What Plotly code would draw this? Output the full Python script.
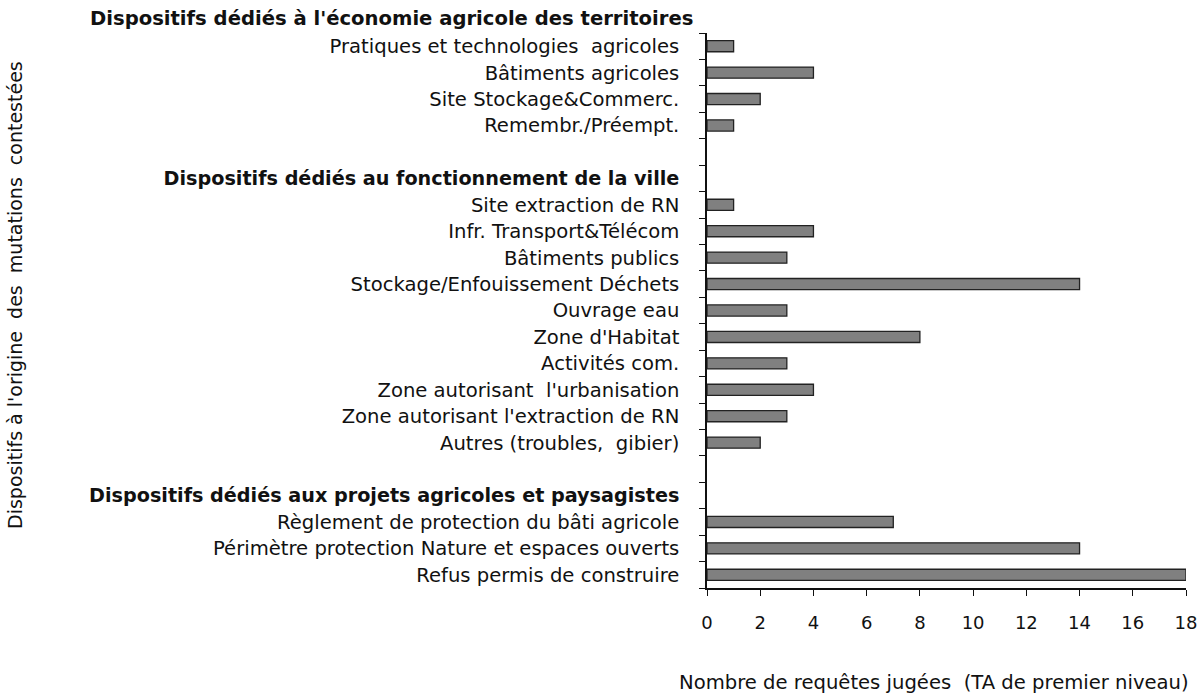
import plotly.graph_objects as go

header_top = "Dispositifs dédiés à l'économie agricole des territoires"
rows = [
    "Pratiques et technologies  agricoles",
    "Bâtiments agricoles",
    "Site Stockage&Commerc.",
    "Remembr./Préempt.",
    "",
    "Dispositifs dédiés au fonctionnement de la ville",
    "Site extraction de RN",
    "Infr. Transport&Télécom",
    "Bâtiments publics",
    "Stockage/Enfouissement Déchets",
    "Ouvrage eau",
    "Zone d'Habitat",
    "Activités com.",
    "Zone autorisant  l'urbanisation",
    "Zone autorisant l'extraction de RN",
    "Autres (troubles,  gibier)",
    "",
    "Dispositifs dédiés aux projets agricoles et paysagistes",
    "Règlement de protection du bâti agricole",
    "Périmètre protection Nature et espaces ouverts",
    "Refus permis de construire",
]
header_rows = [5, 17]
values = [1, 4, 2, 1, None, None, 1, 4, 3, 14, 3, 8, 3, 4, 3, 2, None, None, 7, 14, 18]
x_ticks = [0, 2, 4, 6, 8, 10, 12, 14, 16, 18]

positions = list(range(len(rows)))
bx = [v for v in values if v is not None]
by = [p for p, v in zip(positions, values) if v is not None]
tick_text = [
    f'<span style="font-size:19.2px"><b>{r}</b></span>' if i in header_rows else r
    for i, r in enumerate(rows)
]

font = "DejaVu Sans, Verdana, sans-serif"
fs = 19.6

fig = go.Figure(go.Bar(
    x=bx, y=by, orientation="h", width=0.42,
    marker=dict(color="#808080", line=dict(color="#222222", width=1.3)),
))

fig.update_layout(
    width=1204, height=696,
    margin=dict(l=707, r=18, t=33, b=108),
    paper_bgcolor="white", plot_bgcolor="white",
    showlegend=False,
    font=dict(family=font, size=fs, color="#111111"),
    xaxis=dict(
        range=[0, 18], tickvals=x_ticks, showgrid=False, zeroline=False,
        showline=True, linecolor="#111111", linewidth=1.5,
        ticks="outside", ticklen=6, tickcolor="#111111",
        ticklabelstandoff=12, tickfont=dict(size=18),
        ticklabeloverflow="allow", automargin=False,
    ),
    yaxis=dict(
        range=[20.5, -0.5], tickvals=positions, ticktext=tick_text,
        showgrid=False, zeroline=False, automargin=False,
        showline=True, linecolor="#111111", linewidth=1.5,
        ticks="", ticklabelstandoff=22, tickfont=dict(size=fs),
        minor=dict(tickvals=[p - 0.5 for p in positions] + [20.5], ticks="outside",
                   ticklen=6, tickcolor="#111111", showgrid=False),
    ),
    annotations=[
        dict(text="<b>" + header_top + "</b>", xref="paper", yref="paper",
             x=(695 - 707) / 479, y=1.027,
             showarrow=False, xanchor="right", yanchor="middle",
             font=dict(size=fs, family=font)),
        dict(text="Nombre de requêtes jugées  (TA de premier niveau)", xref="paper", yref="paper",
             x=0.474, y=-0.171, showarrow=False, xanchor="center", yanchor="middle",
             font=dict(size=fs, family=font)),
        dict(text="Dispositifs à l'origine  des  mutations  contestées", xref="paper", yref="paper",
             x=(15 - 707) / 479, y=0.528, showarrow=False, textangle=-90,
             xanchor="center", yanchor="middle",
             font=dict(size=19, family=font)),
    ],
)
fig.write_html("out.html", config={"displayModeBar": False},
               post_script="document.body.style.margin='0';")
